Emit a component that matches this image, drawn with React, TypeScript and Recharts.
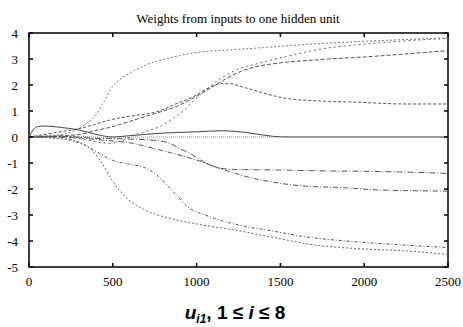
import { Line, LineChart, ReferenceArea, XAxis, YAxis } from 'recharts'

const stepTicks = [0, 500, 1000, 1500, 2000, 2500]
const weightTicks = [-5, -4, -3, -2, -1, 0, 1, 2, 3, 4]

// each unit's weight trace (steps, weight)
const stepsA = [0, 100, 200, 250, 300, 350, 400, 450, 500, 550, 600, 700, 800, 900, 1000, 1200, 1400, 1500, 1700, 2000, 2250, 2500]
const weightsA = [0, 0.03, 0.1, 0.2, 0.35, 0.55, 0.85, 1.4, 1.95, 2.25, 2.45, 2.78, 2.98, 3.13, 3.25, 3.35, 3.44, 3.49, 3.58, 3.68, 3.75, 3.81]

const stepsB = [0, 200, 350, 480, 550, 620, 700, 780, 860, 920, 980, 1040, 1100, 1240, 1380, 1540, 1720, 2000, 2250, 2500]
const weightsB = [0, 0, -0.12, -0.25, -0.15, 0.05, 0.22, 0.4, 0.72, 1.0, 1.38, 1.72, 2.05, 2.59, 2.85, 3.1, 3.36, 3.57, 3.7, 3.79]

const stepsC = [0, 200, 300, 400, 500, 600, 700, 800, 870, 960, 1100, 1240, 1340, 1500, 1720, 2050, 2300, 2500]
const weightsC = [0, 0.05, 0.1, 0.25, 0.4, 0.6, 0.8, 1.0, 1.15, 1.43, 1.95, 2.46, 2.68, 2.85, 2.97, 3.1, 3.22, 3.32]

const stepsD = [0, 100, 185, 305, 400, 480, 580, 720, 800, 860, 980, 1060, 1150, 1200, 1260, 1400, 1520, 1720, 1950, 2250, 2500]
const weightsD = [0, 0.1, 0.2, 0.33, 0.5, 0.65, 0.78, 0.91, 1.05, 1.23, 1.55, 1.85, 2.05, 2.05, 1.95, 1.69, 1.5, 1.39, 1.34, 1.27, 1.27]

const stepsE = [0, 50, 100, 200, 300, 400, 500, 600, 800, 1000, 1150, 1300, 1450, 1550, 2500]
const weightsE = [0, 0.4, 0.42, 0.36, 0.27, 0.1, 0, 0.05, 0.15, 0.2, 0.24, 0.17, 0.03, 0, 0]

const stepsF = [0, 100, 300, 500, 700, 1000, 2500]
const weightsF = [0, 0.05, 0.03, -0.03, 0, 0, 0]

const stepsG = [0, 200, 400, 600, 750, 842, 900, 961, 1041, 1140, 1240, 1500, 1720, 2000, 2250, 2500]
const weightsG = [0, 0.02, -0.05, -0.08, -0.13, -0.25, -0.45, -0.63, -0.95, -1.2, -1.25, -1.27, -1.3, -1.32, -1.35, -1.4]

const stepsH = [0, 225, 400, 623, 750, 842, 1001, 1140, 1300, 1440, 1650, 1850, 2100, 2500]
const weightsH = [0, 0, -0.1, -0.25, -0.45, -0.6, -0.89, -1.21, -1.53, -1.72, -1.89, -1.94, -2.04, -2.08]

const stepsI = [0, 150, 300, 400, 500, 600, 680, 760, 860, 960, 1050, 1140, 1300, 1440, 1650, 1950, 2250, 2500]
const weightsI = [0, 0, -0.2, -0.55, -0.9, -1.05, -1.15, -1.45, -2.1, -2.75, -3.0, -3.2, -3.45, -3.6, -3.84, -4.03, -4.16, -4.25]

const stepsJ = [0, 150, 275, 375, 435, 495, 575, 675, 842, 1041, 1240, 1440, 1700, 1950, 2250, 2500]
const weightsJ = [0, -0.05, -0.18, -0.5, -1.0, -1.66, -2.3, -2.75, -3.13, -3.39, -3.59, -3.84, -4.15, -4.29, -4.38, -4.52]

const toPoints = (steps: number[], weights: number[]) =>
  steps.map((step, i) => ({ step, weight: weights[i] }))

const series = [
  { id: 'a', data: toPoints(stepsA, weightsA), stroke: '#777', dash: '2 2' },
  { id: 'b', data: toPoints(stepsB, weightsB), stroke: '#666', dash: '2 3' },
  { id: 'c', data: toPoints(stepsC, weightsC), stroke: '#555', dash: '4 2' },
  { id: 'd', data: toPoints(stepsD, weightsD), stroke: '#555', dash: '3 2' },
  { id: 'e', data: toPoints(stepsE, weightsE), stroke: '#444', dash: '0' },
  { id: 'f', data: toPoints(stepsF, weightsF), stroke: '#888', dash: '1 1' },
  { id: 'g', data: toPoints(stepsG, weightsG), stroke: '#555', dash: '6 2 1 2' },
  { id: 'h', data: toPoints(stepsH, weightsH), stroke: '#555', dash: '5 2 1 2' },
  { id: 'i', data: toPoints(stepsI, weightsI), stroke: '#555', dash: '3 2 1 2' },
  { id: 'j', data: toPoints(stepsJ, weightsJ), stroke: '#666', dash: '2 2' },
]

const W = 463
const H = 327
const margin = { top: 33, right: 15, bottom: 35, left: 0 }
const xAxisHeight = 25
const yAxisWidth = 29
const plotW = W - margin.left - margin.right - yAxisWidth
const plotH = H - margin.top - margin.bottom - xAxisHeight
const TICK = 4
const serif = 'Liberation Serif'

// ticks point inward, mirrored on the opposite edge
function StepTick({ x, y, payload }: any) {
  return (
    <g>
      <line x1={x} x2={x} y1={y} y2={y - TICK} stroke="#000" strokeWidth={1.5} />
      <line x1={x} x2={x} y1={y - plotH} y2={y - plotH + TICK} stroke="#000" strokeWidth={1.5} />
      <text x={x} y={y + 19} textAnchor="middle" fontFamily={serif} fontSize={13} fill="#000">
        {payload.value}
      </text>
    </g>
  )
}

function WeightTick({ x, y, payload }: any) {
  return (
    <g>
      <line x1={x} x2={x + TICK} y1={y} y2={y} stroke="#000" strokeWidth={1.5} />
      <line x1={x + plotW} x2={x + plotW - TICK} y1={y} y2={y} stroke="#000" strokeWidth={1.5} />
      <text x={x - 11} y={y + 4.5} textAnchor="end" fontFamily={serif} fontSize={13} fill="#000">
        {payload.value}
      </text>
    </g>
  )
}

export default function App() {
  return (
    <div style={{ position: 'relative', width: W, height: H, background: '#fff' }}>
      <style>{'body{margin:0}'}</style>
      <LineChart width={W} height={H} margin={margin}>
        <XAxis
          dataKey="step"
          type="number"
          domain={[0, 2500]}
          ticks={stepTicks}
          interval={0}
          height={xAxisHeight}
          tickSize={0}
          tickMargin={0}
          tickLine={false}
          axisLine={false}
          tick={<StepTick />}
        />
        <YAxis
          type="number"
          domain={[-5, 4]}
          ticks={weightTicks}
          interval={0}
          width={yAxisWidth}
          tickSize={0}
          tickMargin={0}
          tickLine={false}
          axisLine={false}
          tick={<WeightTick />}
        />
        <ReferenceArea x1={0} x2={2500} y1={-5} y2={4} fill="none" stroke="#000" strokeWidth={1.5} ifOverflow="visible" />
        {series.map((s) => (
          <Line
            key={s.id}
            data={s.data}
            dataKey="weight"
            type="monotone"
            stroke={s.stroke}
            strokeWidth={1}
            strokeDasharray={s.dash}
            dot={false}
            isAnimationActive={false}
          />
        ))}
      </LineChart>
      <svg width={W} height={H} style={{ position: 'absolute', left: 0, top: 0, pointerEvents: 'none' }}>
        <text x={238} y={23} textAnchor="middle" fontFamily={serif} fontSize={13} fill="#000">
          Weights from inputs to one hidden unit
        </text>
        <text x={235} y={319} textAnchor="middle" fontFamily="Liberation Sans" fontWeight="bold" fontSize={19} fill="#000">
          <tspan fontStyle="italic">u</tspan>
          <tspan fontStyle="italic" fontSize={12} dy={4}>i1</tspan>
          <tspan dy={-4}>, 1 ≤ </tspan>
          <tspan fontStyle="italic">i</tspan>
          <tspan> ≤ 8</tspan>
        </text>
      </svg>
    </div>
  )
}
